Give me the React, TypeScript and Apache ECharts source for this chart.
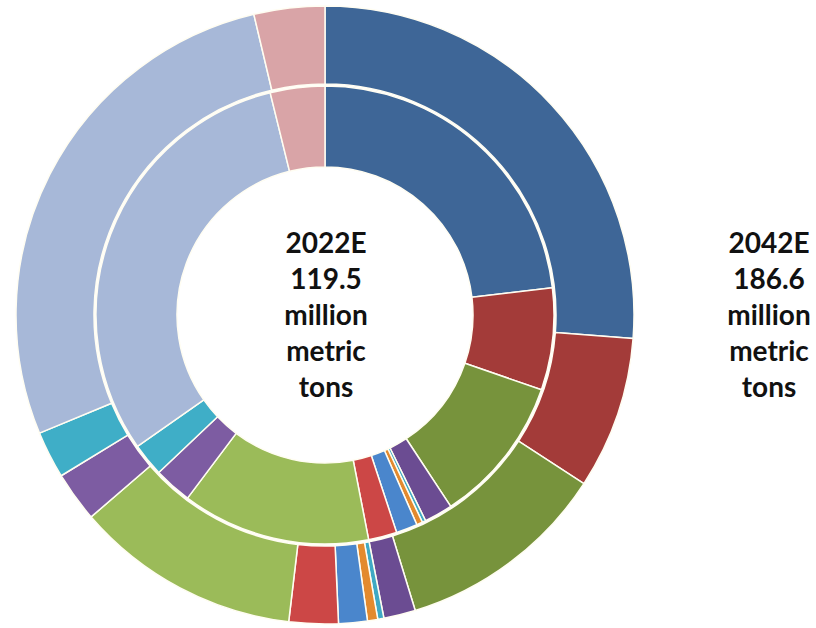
import React, { useEffect, useRef } from "react";
import * as echarts from "echarts";

const categories = [
  "Segment 1", "Segment 2", "Segment 3", "Segment 4", "Segment 5", "Segment 6",
  "Segment 7", "Segment 8", "Segment 9", "Segment 10", "Segment 11", "Segment 12", "Segment 13",
];
// million metric tons
const values2022 = [27.6, 8.6, 12.5, 2.4, 0.3, 0.5, 1.8, 2.4, 15.9, 3.2, 2.8, 36.9, 4.6];
const values2042 = [48.9, 14.9, 20.7, 3.1, 0.6, 1.0, 2.8, 4.8, 22.0, 4.9, 4.6, 51.4, 6.9];
const centerLabel2022 = ["2022E", "119.5", "million", "metric", "tons"];
const sideLabel2042 = ["2042E", "186.6", "million", "metric", "tons"];

const colors = [
  "#3E6697", "#A33B39", "#77933C", "#6B4C92", "#3FA9C4", "#E38A2E", "#4A86CC",
  "#CC4746", "#9BBB59", "#7D5CA2", "#3FAEC7", "#A7B8D8", "#D9A4A7",
];

export default function App() {
  const ref = useRef<HTMLDivElement>(null);
  useEffect(() => {
    if (!ref.current) return;
    const chart = echarts.init(ref.current, null, { renderer: "svg" });
    const mk = (vals: number[]) =>
      vals.map((v, i) => ({ name: categories[i], value: v, itemStyle: { color: colors[i] } }));
    const textStyle = {
      fontFamily: "Lato",
      fontWeight: "bold" as const,
      fontSize: 28,
      lineHeight: 36,
      fill: "#111",
    };
    chart.setOption({
      animation: false,
      backgroundColor: "#ffffff",
      series: [
        {
          type: "pie",
          name: "2022E",
          center: [325, 315],
          radius: [148, 229],
          startAngle: 90,
          clockwise: true,
          label: { show: false },
          labelLine: { show: false },
          emphasis: { disabled: true },
          itemStyle: { borderColor: "#fffdf2", borderWidth: 1.5 },
          data: mk(values2022),
        },
        {
          type: "pie",
          name: "2042E",
          center: [325, 315],
          radius: [231, 309],
          startAngle: 90,
          clockwise: true,
          label: { show: false },
          labelLine: { show: false },
          emphasis: { disabled: true },
          itemStyle: { borderColor: "#fffdf2", borderWidth: 1.5 },
          data: mk(values2042),
        },
      ],
      graphic: [
        {
          type: "text",
          x: 326,
          y: 314,
          style: {
            ...textStyle,
            text: centerLabel2022.join("\n"),
            align: "center",
            verticalAlign: "middle",
          },
        },
        {
          type: "text",
          x: 769,
          y: 314,
          style: {
            ...textStyle,
            text: sideLabel2042.join("\n"),
            align: "center",
            verticalAlign: "middle",
          },
        },
      ],
    });
    return () => chart.dispose();
  }, []);
  return (
    <div
      ref={ref}
      style={{ position: "fixed", left: 0, top: 0, width: 816, height: 628 }}
    />
  );
}
